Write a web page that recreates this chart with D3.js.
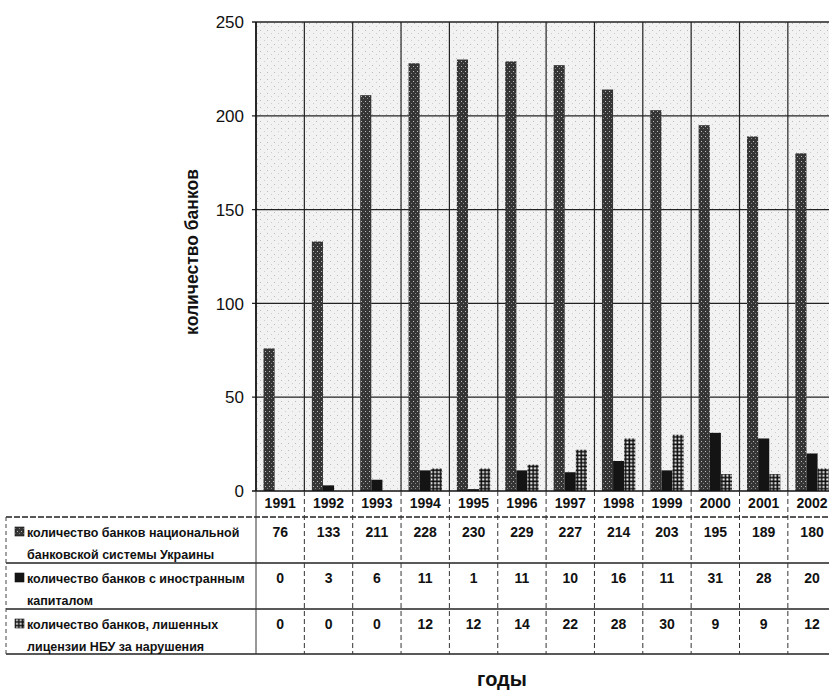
<!DOCTYPE html>
<html lang="ru">
<head>
<meta charset="UTF-8">
<title>Банки Украины 1991-2002</title>
<script src="https://d3js.org/d3.v7.min.js"></script>
<style>
  body { margin: 0; background: #fff; }
  svg { display: block; font-family: Arial, "Liberation Sans", sans-serif; }
  .tick-lbl { font-size: 17px; fill: #111; }
  .cell { font-size: 14px; font-weight: bold; fill: #111; }
  .row-lbl { font-size: 12.5px; font-weight: bold; fill: #111; }
</style>
</head>
<body>
<div class="canvas"></div>
<script>
  // данные с диаграммы
  const years = ["1991", "1992", "1993", "1994", "1995", "1996", "1997", "1998", "1999", "2000", "2001", "2002"];
  const national = [76, 133, 211, 228, 230, 229, 227, 214, 203, 195, 189, 180];
  const foreign = [0, 3, 6, 11, 1, 11, 10, 16, 11, 31, 28, 20];
  const revoked = [0, 0, 0, 12, 12, 14, 22, 28, 30, 9, 9, 12];
  const seriesNames = [
    ["количество банков национальной", "банковской системы Украины"],
    ["количество банков с иностранным", "капиталом"],
    ["количество банков, лишенных", "лицензии НБУ за нарушения"]
  ];
  const yTicks = [0, 50, 100, 150, 200, 250];

  const series = [national, foreign, revoked];
  const W = 829, H = 692;
  const plotLeft = 256, plotTop = 22, plotBottom = 491;
  const colW = 48.35;

  const svg = d3.select('.canvas').append('svg')
    .attr('width', W).attr('height', H);

  const defs = svg.append('defs');

  // фон области построения (сканированный серый)
  const bg = defs.append('pattern').attr('id', 'bg')
    .attr('patternUnits', 'userSpaceOnUse').attr('width', 7).attr('height', 7);
  bg.append('rect').attr('width', 7).attr('height', 7).attr('fill', '#f2f2f2');
  bg.append('rect').attr('x', 1).attr('y', 2).attr('width', 1).attr('height', 1).attr('fill', '#bbb');
  bg.append('rect').attr('x', 5).attr('y', 5).attr('width', 1).attr('height', 1).attr('fill', '#ccc');

  const p1 = defs.append('pattern').attr('id', 'pNat')
    .attr('patternUnits', 'userSpaceOnUse').attr('width', 4).attr('height', 5);
  p1.append('rect').attr('width', 4).attr('height', 5).attr('fill', '#353535');
  p1.append('rect').attr('x', 1).attr('y', 1).attr('width', 1).attr('height', 1).attr('fill', '#bdbdbd');
  p1.append('rect').attr('x', 3).attr('y', 3).attr('width', 1).attr('height', 1).attr('fill', '#888');

  const p3 = defs.append('pattern').attr('id', 'pRev')
    .attr('patternUnits', 'userSpaceOnUse').attr('width', 3.7).attr('height', 3.7);
  p3.append('rect').attr('width', 3.7).attr('height', 3.7).attr('fill', '#111');
  p3.append('rect').attr('x', 1.2).attr('y', 1.2).attr('width', 2).attr('height', 2).attr('fill', '#fff');

  const fills = ['url(#pNat)', '#141414', 'url(#pRev)'];

  const x = d3.scaleBand().domain(years).range([plotLeft, plotLeft + colW * years.length]);
  const xs = d3.scaleBand().domain([0, 1, 2]).range([7.5, colW - 7.5]);
  const y = d3.scaleLinear().domain([0, 250]).range([plotBottom, plotTop]);

  // фон
  svg.append('rect').attr('x', plotLeft).attr('y', plotTop)
    .attr('width', W - plotLeft).attr('height', plotBottom - plotTop).attr('fill', 'url(#bg)');

  // горизонтальная сетка
  svg.selectAll('.hgrid').data(yTicks.slice(1)).enter().append('line')
    .attr('x1', plotLeft - 4).attr('x2', W)
    .attr('y1', d => y(d)).attr('y2', d => y(d))
    .attr('stroke', '#222').attr('stroke-width', 1.3);

  // вертикальная сетка
  const bounds = years.map(d => x(d)).concat([x(years[years.length - 1]) + colW]);
  svg.selectAll('.vgrid').data(bounds).enter().append('line')
    .attr('x1', d => d).attr('x2', d => d)
    .attr('y1', plotTop).attr('y2', plotBottom)
    .attr('stroke', '#222').attr('stroke-width', 1.2);

  // столбики
  series.forEach((vals, si) => {
    svg.selectAll('.bar' + si).data(vals).enter().append('rect')
      .attr('x', (d, i) => x(years[i]) + xs(si))
      .attr('width', xs.bandwidth())
      .attr('y', d => y(d))
      .attr('height', d => plotBottom - y(d))
      .attr('fill', fills[si]);
  });

  // ось y
  svg.append('line').attr('x1', plotLeft).attr('x2', plotLeft).attr('y1', plotTop).attr('y2', plotBottom)
    .attr('stroke', '#111').attr('stroke-width', 1.5);
  svg.selectAll('.ylbl').data(yTicks).enter().append('text')
    .attr('class', 'tick-lbl')
    .attr('x', 244).attr('y', d => y(d))
    .attr('dy', '0.36em').attr('text-anchor', 'end')
    .text(d => d);
  svg.append('line').attr('x1', plotLeft - 4).attr('x2', W).attr('y1', plotBottom).attr('y2', plotBottom)
    .attr('stroke', '#111').attr('stroke-width', 1.6);

  svg.append('text')
    .attr('transform', 'translate(192,252) rotate(-90)')
    .attr('text-anchor', 'middle').attr('dy', '0.36em')
    .attr('font-size', 17.5).attr('font-weight', 'bold').attr('fill', '#111')
    .text('количество банков');

  // таблица данных
  const rowY = [517, 563, 609, 654];
  svg.selectAll('.hrow').data(rowY).enter().append('line')
    .attr('x1', 6).attr('x2', W).attr('y1', d => d).attr('y2', d => d)
    .attr('stroke', '#222').attr('stroke-width', 1.3)
    .attr('stroke-dasharray', (d, i) => i === 0 ? '6,2' : null);
  svg.append('line').attr('x1', 6).attr('x2', 6).attr('y1', 517).attr('y2', 654)
    .attr('stroke', '#444').attr('stroke-width', 1).attr('stroke-dasharray', '4,3');
  svg.selectAll('.vtab').data(bounds).enter().append('line')
    .attr('x1', d => d).attr('x2', d => d)
    .attr('y1', plotBottom).attr('y2', 654)
    .attr('stroke', '#333').attr('stroke-width', 1)
    .attr('stroke-dasharray', (d, i) => i === 0 ? null : '5,3');

  svg.selectAll('.year').data(years).enter().append('text')
    .attr('class', 'cell')
    .attr('x', d => x(d) + colW / 2).attr('y', 503)
    .attr('text-anchor', 'middle').attr('dy', '0.36em')
    .text(d => d);

  series.forEach((vals, si) => {
    svg.selectAll('.val' + si).data(vals).enter().append('text')
      .attr('class', 'cell')
      .attr('x', (d, i) => x(years[i]) + colW / 2)
      .attr('y', rowY[si] + 15)
      .attr('text-anchor', 'middle').attr('dy', '0.36em')
      .text(d => d);

    svg.append('rect')
      .attr('x', 15).attr('y', rowY[si] + 10).attr('width', 9).attr('height', 9)
      .attr('fill', fills[si]).attr('stroke', '#111').attr('stroke-width', 0.6);

    seriesNames[si].forEach((line, li) => {
      svg.append('text').attr('class', 'row-lbl')
        .attr('x', 27).attr('y', rowY[si] + 15 + li * 22)
        .attr('dy', '0.36em')
        .text(line);
    });
  });

  svg.append('text')
    .attr('x', 502).attr('y', 686)
    .attr('text-anchor', 'middle')
    .attr('font-size', 20).attr('font-weight', 'bold').attr('fill', '#111')
    .text('годы');
</script>
</body>
</html>
